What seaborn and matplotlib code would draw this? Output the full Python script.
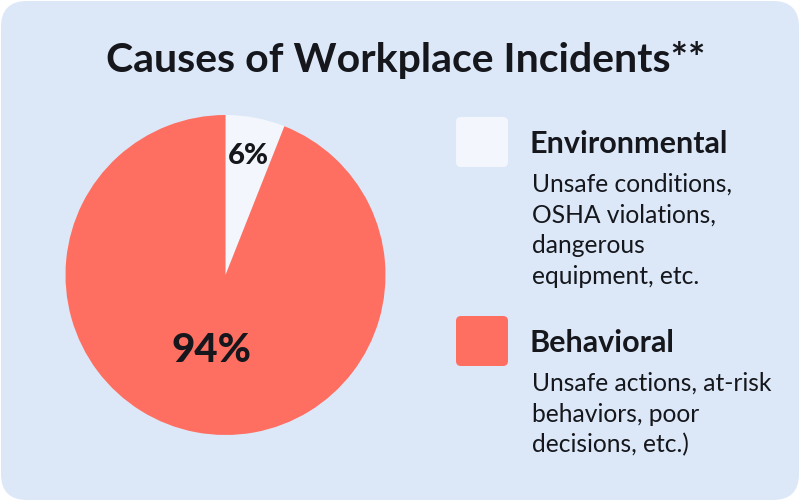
import matplotlib
matplotlib.use("Agg")
import matplotlib.pyplot as plt
import seaborn as sns
import numpy as np
from matplotlib.patches import FancyBboxPatch

# Data
categories = ['Environmental', 'Behavioral']
shares = [6, 94]
descriptions = [
    ['Unsafe conditions,', 'OSHA violations,', 'dangerous', 'equipment, etc.'],
    ['Unsafe actions, at-risk', 'behaviors, poor', 'decisions, etc.)'],
]
title = 'Causes of Workplace Incidents**'

# Style
BG = '#dce8f8'
COLORS = ['#f3f7fd', '#ff6f61']
INK = '#15171c'
FONT = 'Lato'

sns.set_theme(style='white')
plt.rcParams['font.family'] = [FONT, 'DejaVu Sans']

fig = plt.figure(figsize=(8, 5.01), dpi=100)
fig.patch.set_facecolor('white')

# Full-figure axes in pixel units (y down) for background and text
bg = fig.add_axes([0, 0, 1, 1])
bg.set_xlim(0, 800)
bg.set_ylim(501, 0)
bg.axis('off')
bg.add_patch(FancyBboxPatch((1, 1), 798, 499,
                            boxstyle='round,pad=0,rounding_size=26',
                            facecolor=BG, edgecolor='none'))

bg.text(406, 72, title, ha='center', va='baseline', fontsize=29.5,
        fontweight='bold', color=INK)

# Pie
ax = fig.add_axes([65.5 / 800, 66 / 501, 320 / 800, 320 / 501])
wedges, _ = ax.pie(shares, colors=COLORS, startangle=90, counterclock=False,
                   wedgeprops=dict(linewidth=0))
ax.set_xlim(-1, 1)
ax.set_ylim(-1, 1)
ax.set_aspect('equal')
ax.axis('off')

label_r = [0.76, 0.48]
label_size = [21, 29]
for w, val, r, fs in zip(wedges, shares, label_r, label_size):
    mid = np.deg2rad((w.theta1 + w.theta2) / 2)
    ax.text(r * np.cos(mid), r * np.sin(mid), f'{val}%', ha='center',
            va='center', fontsize=fs, fontweight='black', color=INK)

# Legend
box_tops = [117, 316]
head_base = [153, 352]
desc_base = [192, 391]
for i, cat in enumerate(categories):
    bg.add_patch(FancyBboxPatch((456, box_tops[i]), 52, 50,
                                boxstyle='round,pad=0,rounding_size=5',
                                facecolor=COLORS[i], edgecolor='none'))
    bg.text(530, head_base[i], cat, ha='left', va='baseline', fontsize=22,
            fontweight='bold', color=INK)
    for j, line in enumerate(descriptions[i]):
        bg.text(532, desc_base[i] + j * 30.5, line, ha='left', va='baseline',
                fontsize=17.7, color=INK)

fig.savefig('out.png', dpi=100, facecolor='white')
